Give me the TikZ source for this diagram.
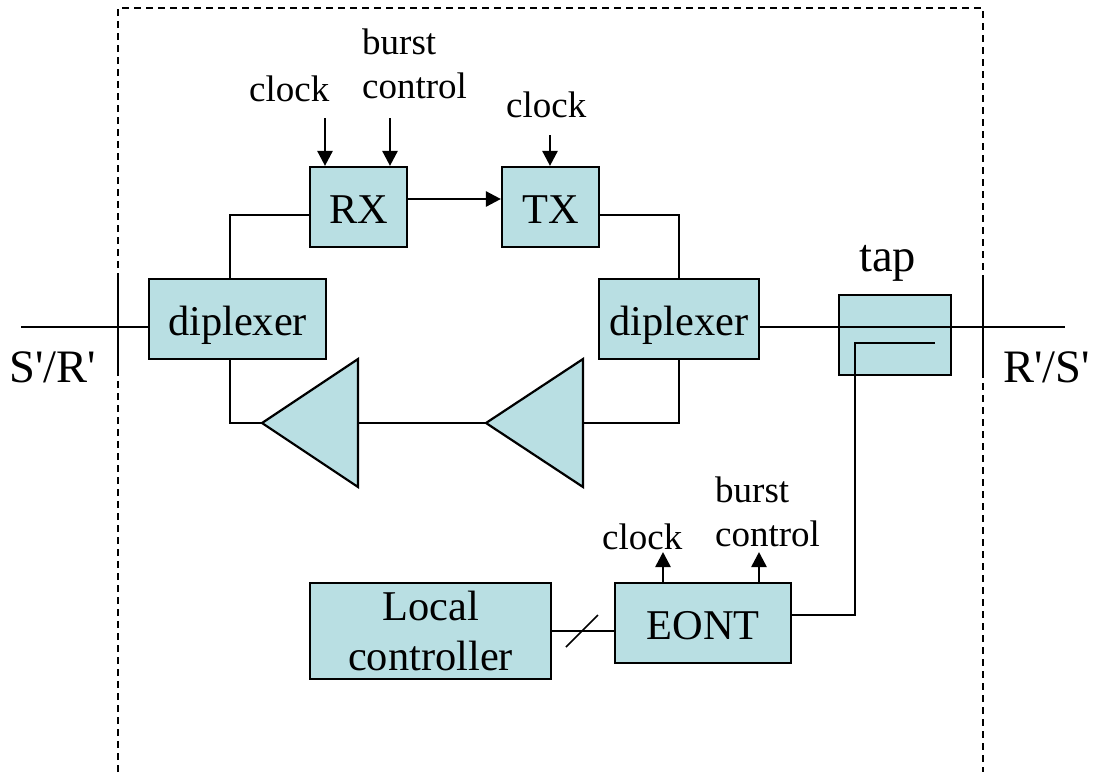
\documentclass[tikz,border=0pt]{standalone}
\usepackage{fontspec}
\setmainfont[Ligatures=TeXOff]{Liberation Serif}
\usetikzlibrary{arrows.meta}
\definecolor{boxfill}{HTML}{B9DFE3}
\newcommand{\blockfont}{\fontsize{42.4}{50}\selectfont}
\newcommand{\ctrlfont}{\fontsize{37}{44}\selectfont}
\newcommand{\portfont}{\fontsize{46.5}{50}\selectfont}
\tikzset{
  x=1pt,y=-1pt,
  block/.style={draw=black,fill=boxfill,line width=2.2pt,inner sep=0pt,font=\blockfont,align=center},
  oneline/.style={text height=32pt,text depth=0pt},
  wire/.style={draw=black,line width=2.2pt},
  ctrl/.style={wire,line width=2.6pt,-{Triangle[length=15pt,width=15pt]}},
  portlabel/.style={inner sep=0pt,anchor=base west,font=\portfont},
  smalllabel/.style={inner sep=0pt,anchor=base west,font=\ctrlfont},
  boundary/.style={draw=black,line width=1.3pt,dash pattern=on 7pt off 5pt},
}
\newcommand{\blockat}[5]{\node[block,oneline,minimum width=#3pt,minimum height=#4pt] (#1) at (#2) {#5};}
\begin{document}
\begin{tikzpicture}
\useasboundingbox (0,0) rectangle (1097,772);
\begin{scope}
\clip (0,0) rectangle (1097,772);
\draw[boundary] (118,772) -- (118,8) -- (983,8) -- (983,772);
\end{scope}
\draw[wire] (118,279) -- (118,376);
\draw[wire] (983,279) -- (983,376);
% named free ends
\coordinate (sr) at (21,327);
\coordinate (rs) at (1065,327);
\coordinate (rxclk) at (325,118);
\coordinate (rxburst) at (390,118);
\coordinate (txclk) at (550,135);
\coordinate (eclk) at (663,552);
\coordinate (eburst) at (759,552);
% triangles
\coordinate (a1tip) at (262,423);
\coordinate (a1base) at (358,423);
\coordinate (a2tip) at (486,423);
\coordinate (a2base) at (583,423);
\coordinate (tapin) at (935,343);
\coordinate (tapcorner) at (855,343);
\coordinate (slashA) at (566,647);
\coordinate (slashB) at (598,615);
% blocks
\blockat{rx}{358.5,207}{97}{80}{RX}
\blockat{tx}{550.5,207}{97}{80}{TX}
\blockat{dl}{237.5,319}{177}{80}{diplexer}
\blockat{dr}{679,319}{160}{80}{diplexer}
\blockat{tap}{895,335}{112}{80}{}
\node[block,minimum width=241pt,minimum height=96pt] (lc) at (430.5,631) {Local\\controller};
\blockat{eont}{703,623}{176}{80}{EONT}
\draw[block] (a1tip) -- (358,359) -- (358,487) -- cycle;
\draw[block] (a2tip) -- (583,359) -- (583,487) -- cycle;
% connectors
\draw[wire] (sr) -- (dl.west |- sr);
\draw[wire] (dr.east |- rs) -- (rs);
\draw[wire] ([yshift=-8pt]rx.west) -| ([xshift=-7.5pt]dl.north);
\draw[wire] ([yshift=-8pt]tx.east) -| (dr.north);
\draw[wire] ([xshift=-7.5pt]dl.south) |- (a1tip);
\draw[wire] (dr.south) |- (a2base);
\draw[wire] (a2tip) -- (a1base);
\draw[ctrl] ([yshift=8pt]rx.east) -- ([yshift=8pt]tx.west);
\draw[ctrl] (rxclk) -- (rxclk |- rx.north);
\draw[ctrl] (rxburst) -- (rxburst |- rx.north);
\draw[ctrl] (txclk) -- (txclk |- tx.north);
\draw[ctrl] (eclk |- eont.north) -- (eclk);
\draw[ctrl] (eburst |- eont.north) -- (eburst);
\draw[wire] (tapin) -- (tapcorner) |- ([yshift=8pt]eont.east);
\draw[wire] (lc.east) -- (lc.east -| eont.west);
\draw[wire,line width=1.6pt] (slashA) -- (slashB);
% labels
\node[smalllabel] (l1) at (362,54) {burst};
\node[smalllabel] (l2) at (362,98) {control};
\node[smalllabel] (l3) at (249,101) {clock};
\node[smalllabel] (l4) at (506,117) {clock};
\node[smalllabel] (l5) at (715,502) {burst};
\node[smalllabel] (l6) at (715,546) {control};
\node[smalllabel] (l7) at (602,549) {clock};
\node[portlabel] (l8) at (859,271) {tap};
\node[portlabel] (l9) at (9,382) {S'/R'};
\node[portlabel] (l10) at (1003,382) {R'/S'};
\end{tikzpicture}
\end{document}
